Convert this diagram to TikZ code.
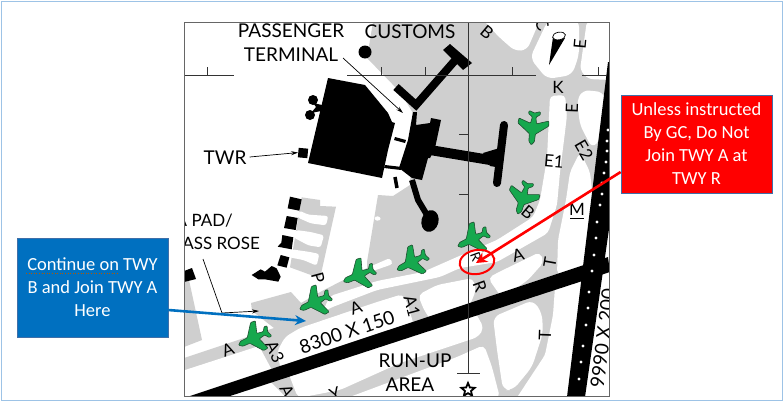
\documentclass[tikz,border=0pt]{standalone}
\usepackage{fontspec}
\usetikzlibrary{shapes.geometric,arrows.meta,calc}
\setmainfont{Lato}
\newfontfamily\boxfont{Carlito}
\definecolor{apron}{HTML}{CFCFCF}
\definecolor{planeg}{HTML}{16A84E}
\definecolor{planed}{HTML}{1E4F30}
\definecolor{bluebox}{HTML}{0070C0}
\definecolor{edgeb}{HTML}{3F6FA8}
\definecolor{outer}{HTML}{9DC3E6}
\tikzset{
  grayarea/.style={fill=apron,draw=none},
  whitearea/.style={fill=white,draw=none,rounded corners=2.5pt},
  blackarea/.style={fill=black,draw=none},
  maplabel/.style={inner sep=0pt,font=\fontsize{19}{19}\selectfont,text=black},
  padlabel/.style={inner sep=0pt,font=\fontsize{17}{17}\selectfont,text=black},
  twylabel/.style={inner sep=0pt,font=\fontsize{17}{17}\selectfont,text=black},
  callout/.style={draw=edgeb,line width=0.7pt,text=white,align=center,inner sep=0pt,
     font=\boxfont\fontsize{18.5}{23}\selectfont},
  leader/.style={draw=black,line width=0.7pt,-{Stealth[length=7pt,width=4pt]}},
  grid/.style={draw=black!80,line width=0.8pt},
}
\newcommand{\plane}[3]{%
  \filldraw[shift={(#1,#2)},rotate=#3,fill=planeg,draw=planed,line width=0.6pt,rounded corners=0.8pt]
   (0,17) -- (2.8,13.5) -- (3,6) -- (15.5,-3.5) -- (15,-8.5) -- (3,-4.5) -- (1.8,-11) -- (6,-14) -- (5.5,-17)
   -- (0,-15) -- (-5.5,-17) -- (-6,-14) -- (-1.8,-11) -- (-3,-4.5) -- (-15,-8.5) -- (-15.5,-3.5)
   -- (-3,6) -- (-2.8,13.5) -- cycle;}
\begin{document}
\begin{tikzpicture}[x=1pt,y=-1pt]
\useasboundingbox (0,0) rectangle (784,402);
\fill[white] (0,0) rectangle (784,402);
\draw[outer,line width=0.8pt] (1,1) rectangle (782.5,400.5);
\begin{scope}
\clip (184,22) rectangle (609,396);
% gray ground above the runway
\path[grayarea] (373,22) -- (609,22) -- (609,200) -- (600,260) -- (190,396) -- (184,396) -- (184,358) -- (274,328)
  -- (252,311) -- (251,303) -- (291,292) -- (301,303) -- (322,291) -- (367,268) -- (367,262) -- (378,195) -- (393,196)
  -- (410,185) -- (413,113) -- (400,92) -- (367,58) -- cycle;
\path[grayarea] (184,280) -- (189,280) -- (202,340) -- (184,347) -- cycle;
% white wedge between the gray band and the runway
\path[whitearea] (182,371) -- (259,346) -- (273,372) -- (200,398) -- (182,398) -- cycle;
% gray ground below the runway
\path[grayarea] (270,381) -- (582,280) -- (567,396) -- (285,396) -- cycle;
% white cut-outs
\path[whitearea,rounded corners=6pt] (483,20) -- (500,38) -- (515,51) -- (527,50) -- (540,20) -- cycle;
\path[whitearea,rounded corners=7pt] (548,20) -- (530,58) -- (547,79) -- (572,75) -- (579,55) -- (579,20) -- cycle;
\path[whitearea,rounded corners=5pt] (587,20) -- (611,20) -- (611,80) -- (588,79) -- (580,70) -- cycle;
\path[whitearea,rounded corners=6pt] (577,100) -- (583,90) -- (603,92) -- (605,100) -- (600,140) -- (592,148) -- (580,125) -- cycle;
\path[whitearea,rounded corners=4pt] (322,313) -- (330,296) -- (377,281) -- (423,272) -- (457,257) -- (497,240) -- (533,217)
  -- (540,200) -- (547,158) -- (550,96) -- (565,95) -- (567,115) -- (565,132) -- (560,172) -- (557,205) -- (548,233)
  -- (497,262) -- (460,268) -- (440,277) -- (377,290) -- (330,308) -- cycle;
\path[whitearea,rounded corners=3pt] (367,268) -- (390,258) -- (393,264) -- (370,272) -- cycle;
\path[whitearea,rounded corners=5pt] (557,275) -- (558,240) -- (566,200) -- (570,172) -- (580,152) -- (590,172) -- (593,200) -- (585,275) -- cycle;
\path[whitearea,rounded corners=5pt] (281,370) -- (277,352) -- (285,337) -- (300,328) -- (377,302) -- (403,294) -- (408,305) -- (414,326) -- cycle;
\path[whitearea,rounded corners=5pt] (418,295) -- (437,285) -- (473,278) -- (476,290) -- (470,305) -- (432,322) -- (424,310) -- cycle;
\path[whitearea,rounded corners=5pt] (488,278) -- (497,273) -- (540,252) -- (544,262) -- (528,280) -- (502,298) -- cycle;
\path[whitearea,rounded corners=5pt] (288,372) -- (475,312) -- (484,328) -- (478,337) -- (400,363) -- (340,390) -- (298,398) -- cycle;
\path[whitearea,rounded corners=5pt] (347,398) -- (457,357) -- (484,345) -- (492,367) -- (500,398) -- cycle;
\path[whitearea,rounded corners=7pt] (493,317) -- (533,300) -- (542,313) -- (543,333) -- (532,367) -- (513,390) -- (503,390) -- (497,350) -- cycle;
\path[whitearea,rounded corners=3pt] (555,287) -- (583,278) -- (570,399) -- (516,399) -- (545,355) -- (553,315) -- cycle;
\path[whitearea] (375,216) -- (381,217) -- (380,221) -- (374,220) -- cycle;
% comb building
\begin{scope}[shift={(240,180)},scale=1/3]
  \path[grayarea] (185,52) -- (240,60) -- (240,78) -- (288,80) -- (240,295) -- (150,262) -- cycle;
  \path[whitearea] (178,92) -- (205,104) -- (265,108) -- (258,136) -- (212,130) -- (172,112) -- cycle;
  \path[whitearea] (168,150) -- (212,156) -- (252,166) -- (242,202) -- (205,196) -- (160,172) -- cycle;
  \path[whitearea] (155,208) -- (210,216) -- (238,222) -- (230,257) -- (190,240) -- (148,232) -- cycle;
  \path[blackarea] (150,50) -- (185,58) -- (178,92) -- (143,85) -- cycle;
  \path[blackarea] (140,108) -- (173,114) -- (167,150) -- (132,144) -- cycle;
  \path[blackarea] (127,165) -- (160,172) -- (155,208) -- (113,200) -- (124,188) -- cycle;
  \path[blackarea] (122,225) -- (148,232) -- (140,263) -- (112,256) -- cycle;
  \path[blackarea] (35,285) -- (62,268) -- (75,275) -- (95,258) -- (110,265) -- (122,290) -- (115,305) -- (75,298) -- (55,298) -- cycle;
\end{scope}
\path[blackarea] (184,271) -- (192,268) -- (196,279) -- (184,282) -- cycle;
% runways
\path[blackarea] (190,396) -- (608,257) -- (610,272) -- (224,398) -- cycle;
\path[blackarea] (567,397) -- (608,62) -- (610,62) -- (610,222) -- (585,397) -- cycle;
\foreach \dx/\dy in {608/130,607/141,607/151,606/162,604/173,602/183,602/194,600/205,597/222,596/238,594/255,592/271,589/292,588/308,586/325,583/346,581/362,579/379}
  \fill[white] (\dx,\dy) circle (1.6);
% terminal buildings
\path[blackarea] (328,78) -- (365,85) -- (388,113) -- (392,122) -- (395,123) -- (388,150) -- (382,178) -- (308,163) -- cycle;
\path[blackarea] (395,137) -- (406,140) -- (405,143) -- (394,140) -- cycle;
\path[blackarea] (385,165) -- (402,167) -- (401,170) -- (384,168) -- cycle;
\path[blackarea] (413,112) -- (417,112) -- (416,125) -- (430,123) -- (431,118) -- (441,120) -- (435,148) -- (430,158) -- (428,158) -- (422,180) -- (412,178) -- (399,168) -- (408,140) -- cycle;
\draw[line width=8pt,black] (396,87) -- (416,105) -- (458,57);
\path[blackarea] (443,50) -- (450,44) -- (472,63) -- (463,70) -- cycle;
\draw[line width=10pt,black] (430,150) -- (490,160);
\draw[line width=8pt,black,line cap=round] (504,125) -- (497,183);
\path[blackarea] (483,153) -- (503,147) -- (502,168) -- (490,166) -- cycle;
\draw[line width=6pt,black] (412,180) -- (418,200) -- (430,220);
\fill[black,rotate around={-15:(430,221)}] (430,221) ellipse (8.5 and 11);
\draw[line width=3.5pt,black] (395,177) -- (397,188);
% small blobs
\fill[black] (313,100) circle (5) (310,115) circle (5);
\path[blackarea] (313,103) -- (322,105) -- (321,111) -- (311,113) -- (316,107) -- cycle;
\fill[black] (365,52) circle (6.5);
\node[fill=black,inner sep=0pt,minimum size=9.5pt,rotate=-5] (twrsq) at (303,153) {};
% wind indicator
\path[blackarea] (549,65) -- (553,37) -- (565,38) -- cycle;
\filldraw[fill=white,draw=black,line width=0.7pt,rotate around={10:(559,36)}] (559,36) ellipse (6.5 and 3.8);
% grid lines
\draw[grid] (184,75) -- (234,75) (207,67) -- (207,75);
\draw[grid] (347,75) -- (536,75) (381,67) -- (381,75) (425,67) -- (425,75) (512,67) -- (512,75);
\draw[grid] (582,75) -- (607,75) (598,67) -- (598,75);
\draw[grid] (468,22) -- (468,373) (457,373) -- (480,373) (459,134) -- (468,134) (459,194) -- (468,194);
\node[star,star points=5,star point ratio=2.2,draw=black,fill=white,line width=1.8pt,minimum size=14pt,inner sep=0pt] (beacon) at (468,390) {};
% labels
\node[maplabel] (lpass) at (291,31) {PASSENGER};
\node[maplabel] (lterm) at (291,55) {TERMINAL};
\node[maplabel] (lcust) at (410,32) {CUSTOMS};
\node[maplabel] (ltwr) at (225,158) {TWR};
\node[padlabel,anchor=east] (lpad) at (233,221) {A PAD/};
\node[padlabel,anchor=east] (lrose) at (260,243) {ASS ROSE};
\node[maplabel,rotate=18.5] (lrwy) at (347,332) {8300 X 150};
\node[maplabel,rotate=83] (lrwyb) at (603,338) {9990 X 200};
\node[maplabel] (lrun) at (415,361) {RUN-UP};
\node[maplabel] (larea) at (410,385) {AREA};
\node[twylabel,rotate=-40] (tb1) at (487,32) {B};
\node[twylabel,rotate=-60] (tc) at (542,24) {C};
\node[twylabel,rotate=85] (te1) at (580,44) {E};
\node[twylabel,rotate=88] (te2) at (572,108) {E};
\node[twylabel] (tk) at (558,87) {K};
\node[twylabel,rotate=-5] (te3) at (554,161) {E1};
\node[twylabel,rotate=-60] (te4) at (584,150) {E2};
\node[twylabel] (tm) at (577,209) {M};
\node[twylabel,rotate=-40] (tb2) at (528,212) {B};
\node[twylabel,rotate=80] (tt1) at (550,262) {T};
\node[twylabel,rotate=88] (tt2) at (545,335) {T};
\node[twylabel,rotate=15] (ta1) at (518,255) {A};
\node[twylabel,rotate=-70] (tr1) at (480,286) {R};
\node[twylabel,rotate=-70,scale=0.8] (tr2) at (476,257) {R};
\node[twylabel,rotate=-75] (ta2) at (412,306) {A1};
\node[twylabel,rotate=-65] (ta3) at (275,352) {A3};
\node[twylabel,rotate=20] (ta4) at (228,350) {A};
\node[twylabel,rotate=20] (ta5) at (356,308) {A};
\node[twylabel,rotate=-75] (tp) at (318,278) {P};
\node[twylabel,rotate=-65] (ta6) at (287,391) {A};
\node[twylabel,rotate=20] (ty) at (335,394) {Y};
\draw[black,line width=0.8pt] (570,218) -- (584,218);
% leaders
\coordinate (cterm) at (403,113);
\coordinate (cpadA) at (203,259);
\coordinate (cpadB) at (222,313);
\coordinate (cpadC) at (259,311);
\draw[leader] (343,58) -- (cterm);
\draw[leader] (ltwr.east) ++(3,-1) -- (twrsq.west);
\draw[leader] (cpadA) -- (cpadB) -- (cpadC);
% planes
\plane{533}{128}{-6}
\plane{523}{198}{-18}
\plane{473}{239}{-64}
\plane{412}{262}{-62}
\plane{359}{275}{-67}
\plane{315}{302}{-64}
\plane{254}{338}{-65}
\end{scope}
\draw[black!60,line width=1pt] (184,22) rectangle (609,396);
% callouts
\node[callout,fill=bluebox,minimum width=151pt,minimum height=99pt] (bluenote) at (92.5,287.5) {Continue on TWY\\B and Join TWY A\\Here};
\node[callout,fill=red,minimum width=151pt,minimum height=98pt] (rednote) at (696.5,144) {Unless instructed\\By GC, Do Not\\Join TWY A at\\TWY R};
\draw[orange!70!black,line width=0.6pt,dotted] (26,273) -- (119,273);
\coordinate (bluetip) at (306,321);
\coordinate (redtip) at (476,263);
\draw[bluebox,line width=2.6pt,-{Stealth[length=11pt,width=10pt]}] (bluenote.east |- 0,310) -- (bluetip);
\draw[red,line width=2.6pt,-{Stealth[length=11pt,width=11pt]}] (rednote.west |- 0,172) -- (redtip);
\node[draw=red,line width=2pt,ellipse,minimum width=35pt,minimum height=24pt,inner sep=0pt,rotate=10] (redring) at (477,262) {};
\end{tikzpicture}
\end{document}
